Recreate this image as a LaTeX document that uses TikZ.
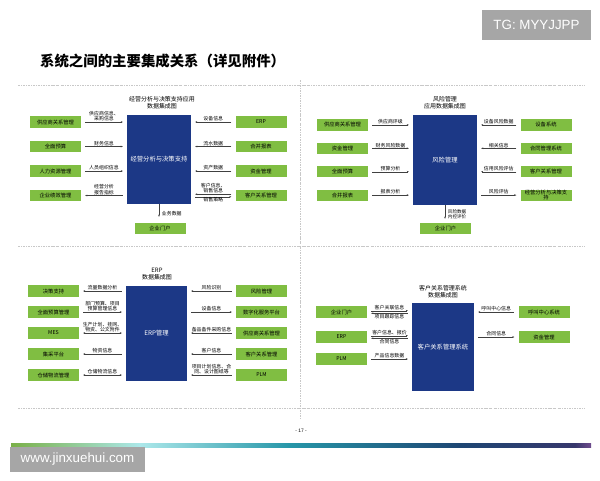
\documentclass[tikz,border=0pt]{standalone}
\usepackage{fontspec}
\setmainfont{Liberation Sans}
\newfontfamily\cjk{Noto Sans CJK SC}
\usetikzlibrary{arrows.meta,calc}

\definecolor{boxgreen}{RGB}{128,190,66}
\definecolor{boxblue}{RGB}{28,56,134}
\definecolor{tggray}{RGB}{166,166,166}
\definecolor{sepgray}{RGB}{200,200,200}
\definecolor{barA}{RGB}{122,176,72}
\definecolor{barB}{RGB}{172,232,234}
\definecolor{barC}{RGB}{38,150,168}
\definecolor{barD}{RGB}{30,70,115}
\definecolor{barE}{RGB}{55,55,108}
\definecolor{barF}{RGB}{112,76,142}

\begin{document}
\begin{tikzpicture}[x=0.5mm,y=-0.5mm,>={Stealth[length=3pt,width=2.4pt]},
  gbox/.style={fill=boxgreen, minimum width=25.5mm, minimum height=5.6mm, inner sep=0.5pt,
    align=center, font=\cjk\fontsize{7.5}{7.5}\selectfont},
  bbox/.style={fill=boxblue, text=white, font=\cjk\fontsize{9}{10}\selectfont},
  ttl/.style={align=center, font=\cjk\fontsize{8.5}{10}\selectfont},
  lbl/.style={align=center, inner sep=1pt, font=\cjk\fontsize{7}{8}\selectfont},
  flow/.style={draw=black!75, line width=0.45pt, shorten <=2mm, shorten >=2mm},
  sep/.style={draw=sepgray, line width=0.5pt, dash pattern=on 3pt off 1.5pt on 1pt off 1.5pt}]

\useasboundingbox (0,0) rectangle (600,480);

% Header
\node[fill=tggray, text=white, minimum width=54.5mm, minimum height=15mm,
  font=\fontsize{19}{22}\selectfont] (tg) at (536.5,25) {TG: MYYJJPP};
\node[anchor=west, inner sep=0pt, font=\cjk\bfseries\fontsize{20.5}{24}\selectfont] (title) at (40,61)
  {系统之间的主要集成关系（详见附件）};

% Dashed separators
\draw[sep] (18,85) -- (585,85);
\draw[sep] (18,246) -- (585,246);
\draw[sep] (18,408) -- (585,408);
\draw[sep] (300,80) -- (300,419);

% Top left: decision support
\node[ttl] (jyt) at (162,102.5) {经营分析与决策支持应用\\数据集成图};
\node[bbox, minimum width=32mm, minimum height=44.5mm] (jy) at (159,159.5) {经营分析与决策支持};
\foreach \t [count=\i] in {供应商关系管理,全面预算,人力资源管理,企业绩效管理}
  \node[gbox] (jyl\i) at (55.5,{97.5+24.5*\i}) {\t};
\foreach \t [count=\i] in {ERP,合并报表,资金管理,客户关系管理}
  \node[gbox] (jyr\i) at (261,{97.5+24.5*\i}) {\t};
\foreach \i/\t in {1/{供应商信息、\\采购信息},2/财务信息,3/人员组织信息}
  \draw[flow,->] (jyl\i.east) -- (jyl\i.east -| jy.west) node[lbl, midway, above] {\t};
\draw[flow,->] (jy.west |- jyl4.east) -- (jyl4.east) node[lbl, midway, above] {经营分析\\报告指标};
\foreach \i/\t in {1/设备信息,2/流水数据,3/资产数据}
  \draw[flow,->] (jyr\i.west) -- (jyr\i.west -| jy.east) node[lbl, midway, above] {\t};
\draw[flow,->] ($(jyr4.west)+(0,-1.3)$) -- ($(jyr4.west -| jy.east)+(0,-1.3)$)
  node[lbl, midway, above] {客户信息、\\销售信息};
\draw[flow,<-] ($(jyr4.west)+(0,1.3)$) -- ($(jyr4.west -| jy.east)+(0,1.3)$)
  node[lbl, midway, below] {销售策略};
\node[gbox] (jyp) at (160,228.5) {企业门户};
\draw[flow,->, shorten <=0pt, shorten >=3mm] (jy.south) -- (jy.south |- jyp.north)
  node[lbl, midway, right=3pt] {业务数据};

% Top right: risk management
\node[ttl] (fxt) at (445,102.5) {风险管理\\应用数据集成图};
\node[bbox, minimum width=32mm, minimum height=45mm] (fx) at (445,160) {风险管理};
\foreach \t [count=\i] in {供应商关系管理,资金管理,全面预算,合并报表}
  \node[gbox] (fxl\i) at (342.5,{101.5+23.4*\i}) {\t};
\foreach \t [count=\i] in {设备系统,合同管理系统,客户关系管理,{经营分析与决策支\\持}}
  \node[gbox] (fxr\i) at (546,{101.5+23.4*\i}) {\t};
\foreach \i/\t in {1/供应商评级,2/财务风险数据,3/预算分析,4/报表分析}
  \draw[flow,->] (fxl\i.east) -- (fxl\i.east -| fx.west) node[lbl, midway, above] {\t};
\foreach \i/\t in {1/设备风险数据,2/相关信息,3/信用风险评估}
  \draw[flow,->] (fxr\i.west) -- (fxr\i.west -| fx.east) node[lbl, midway, above] {\t};
\draw[flow,->] (fx.east |- fxr4.west) -- (fxr4.west) node[lbl, midway, above] {风险评估};
\node[gbox] (fxp) at (445.5,228.5) {企业门户};
\draw[flow,->, shorten <=0pt, shorten >=2mm] (fx.south) -- (fx.south |- fxp.north)
  node[lbl, midway, right=3pt, font=\cjk\fontsize{6.5}{7}\selectfont] {风险数据\\内控评价};

% Bottom left: ERP
\node[ttl] (erpt) at (157,274) {ERP\\数据集成图};
\node[bbox, minimum width=30.5mm, minimum height=47.5mm] (erp) at (156.5,333.5) {ERP管理};
\foreach \t [count=\i] in {决策支持,全面预算管理,MES,集采平台,仓储物流管理}
  \node[gbox] (erpl\i) at (53.5,{270+21*\i}) {\t};
\foreach \t [count=\i] in {风险管理,数字化服务平台,供应商关系管理,客户关系管理,PLM}
  \node[gbox] (erpr\i) at (261.5,{270+21*\i}) {\t};
\foreach \i/\d/\t in {1/<-/流量数据分析,2/->/{部门预算、项目\\预算管理信息},3/<->/{生产计划、挂网、\\物资、公文附件},
    4/<-/物资信息,5/<->/仓储物流信息}
  \draw[flow,\d] (erpl\i.east) -- (erpl\i.east -| erp.west) node[lbl, midway, above] {\t};
\foreach \i/\d/\t in {1/->/风险识别,2/<-/设备信息,3/->/备品备件采购信息,4/->/客户信息,
    5/->/{项目计划信息、合\\同、设计图纸等}}
  \draw[flow,\d] (erpr\i.west) -- (erpr\i.west -| erp.east) node[lbl, midway, above] {\t};

% Bottom right: CRM
\node[ttl] (crmt) at (443,291.5) {客户关系管理系统\\数据集成图};
\node[bbox, minimum width=31mm, minimum height=44mm] (crm) at (443,347) {客户关系管理系统};
\foreach \t/\y in {企业门户/312,ERP/337,PLM/359}
  \node[gbox] (crml\y) at (341.5,\y) {\t};
\node[gbox] (crmr1) at (544,312) {呼叫中心系统};
\node[gbox] (crmr2) at (544,337) {资金管理};
\foreach \y/\a/\b in {312/客户关联信息/项目跟踪信息,337/客户信息、报价/合同信息} {
  \draw[flow,->] ($(crml\y.east)+(0,-1.3)$) -- ($(crml\y.east -| crm.west)+(0,-1.3)$)
    node[lbl, midway, above] {\a};
  \draw[flow,<-] ($(crml\y.east)+(0,1.3)$) -- ($(crml\y.east -| crm.west)+(0,1.3)$)
    node[lbl, midway, below] {\b};
}
\draw[flow,->] (crml359.east) -- (crml359.east -| crm.west) node[lbl, midway, above] {产品信息数据};
\draw[flow,<-] (crm.east |- crmr1.west) -- (crmr1.west) node[lbl, midway, above] {呼叫中心信息};
\draw[flow,->] (crm.east |- crmr2.west) -- (crmr2.west) node[lbl, midway, above] {合同信息};

% Footer
\node[font=\fontsize{7}{8}\selectfont] (pg) at (301,431) {- 17 -};
\shade[left color=barA, right color=barB] (11,443) rectangle (140,447);
\shade[left color=barB, right color=barC] (140,443) rectangle (290,447);
\shade[left color=barC, right color=barD] (290,443) rectangle (460,447);
\shade[left color=barD, right color=barE] (460,443) rectangle (575,447);
\shade[left color=barE, right color=barF] (575,443) rectangle (591,447);
\node[fill=tggray, text=white, minimum width=67.5mm, minimum height=12.5mm,
  font=\fontsize{19}{22}\selectfont] (web) at (77.5,459.5) {www.jinxuehui.com};

\end{tikzpicture}
\end{document}
